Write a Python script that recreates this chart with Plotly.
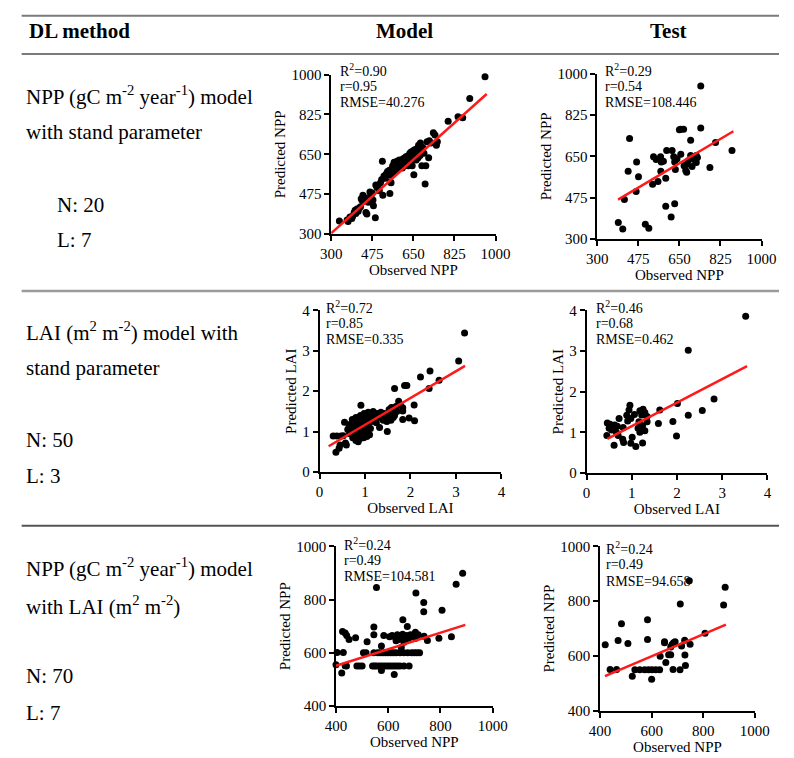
import plotly.graph_objects as go

W, H = 794, 758
FONT = "Liberation Serif, Times New Roman, serif"

# ---------------- data ----------------
header_labels = ["DL method", "Model", "Test"]
row_titles = [
    ["NPP (gC m<sup>-2</sup> year<sup>-1</sup>) model", "with stand parameter"],
    ["LAI (m<sup>2</sup> m<sup>-2</sup>) model with", "stand parameter"],
    ["NPP (gC m<sup>-2</sup> year<sup>-1</sup>) model", "with LAI (m<sup>2</sup> m<sup>-2</sup>)"],
]
row_N = ["N: 20", "N: 50", "N: 70"]
row_L = ["L: 7", "L: 3", "L: 7"]

npp_ticks_a = [300, 475, 650, 825, 1000]
lai_ticks = [0, 1, 2, 3, 4]
npp_ticks_b = [400, 600, 800, 1000]

# Panel 1: NPP model with stand parameter (Model)
p1_obs = [335, 368, 372, 380, 388, 392, 398, 402, 405, 410, 415, 420, 425, 428, 432, 435, 440, 445, 448, 452,
          458, 465, 470, 475, 478, 480, 488, 490, 495, 500, 505, 510, 515, 518, 520, 525, 530, 535, 540, 545,
          548, 550, 552, 555, 558, 560, 562, 565, 568, 570, 575, 578, 580, 585, 588, 590, 595, 598, 600, 603,
          605, 608, 610, 613, 615, 618, 620, 622, 625, 628, 630, 632, 635, 638, 640, 642, 645, 648, 650, 652,
          655, 658, 660, 662, 665, 668, 670, 672, 675, 678, 680, 683, 686, 690, 695, 700, 703, 708, 715, 718,
          725, 735, 742, 748, 752, 798, 840, 860, 890, 955]
p1_pred = [358, 362, 355, 375, 368, 380, 395, 405, 390, 410, 400, 415, 420, 455, 448, 470, 445, 460, 395, 388,
           440, 485, 470, 480, 450, 425, 372, 515, 505, 512, 490, 525, 540, 620, 470, 555, 545, 565, 575, 560,
           580, 478, 530, 525, 560, 590, 600, 570, 615, 595, 580, 600, 620, 610, 590, 625, 605, 615, 600, 590,
           630, 620, 600, 635, 615, 605, 640, 625, 610, 600, 645, 630, 655, 620, 660, 640, 600, 665, 650, 560,
           670, 640, 655, 625, 675, 650, 635, 690, 660, 645, 700, 665, 600, 680, 655, 520, 600, 705, 635, 710,
           700, 745, 735, 690, 705, 795, 815, 810, 895, 990]
p1_stats = ["0.90", "0.95", "40.276"]
p1_fit = dict(slope=0.923, intercept=27.0, x0=300, x1=962)

# Panel 2: NPP model with stand parameter (Test)
p2_obs = [741, 741, 655, 650, 668, 698, 438, 804, 874, 596, 619, 656, 540, 551, 570, 582, 573, 468, 698, 711,
          722, 727, 626, 640, 630, 688, 680, 670, 677, 681, 704, 722, 715, 633, 571, 592, 559, 536, 432, 476,
          466, 416, 592, 630, 615, 505, 520, 390, 409, 780]
p2_pred = [948, 770, 765, 762, 765, 718, 725, 708, 675, 675, 675, 659, 648, 637, 648, 629, 626, 626, 653, 640,
           653, 645, 648, 640, 626, 631, 615, 610, 590, 583, 607, 624, 635, 594, 587, 557, 543, 532, 587, 564,
           501, 467, 439, 449, 393, 363, 346, 370, 342, 603]
p2_stats = ["0.29", "0.54", "108.446"]
p2_fit = dict(slope=0.5886, intercept=238.0, x0=389, x1=880)

# Panel 3: LAI model with stand parameter (Model)
p3_obs = [0.30, 0.38, 0.47, 0.45, 0.36, 0.43, 0.55, 0.59, 0.52, 0.57, 0.62, 0.65, 0.66, 0.68, 0.70, 0.72, 0.73, 0.75,
          0.76, 0.78, 0.80, 0.80, 0.82, 0.83, 0.85, 0.85, 0.87, 0.88, 0.90, 0.90, 0.91, 0.92, 0.93, 0.95, 0.95, 0.97,
          0.98, 0.98, 1.00, 1.00, 1.02, 1.03, 1.04, 1.05, 1.06, 1.07, 1.08, 1.10, 1.10, 1.12, 1.13, 1.15, 1.18, 1.20,
          1.22, 1.25, 1.28, 1.30, 1.32, 1.35, 1.38, 1.40, 1.42, 1.45, 1.48, 1.49, 1.50, 1.52, 1.53, 1.55, 1.57, 1.58,
          1.60, 1.62, 1.63, 1.65, 1.65, 1.68, 1.70, 1.74, 1.78, 1.83, 1.83, 1.83, 1.87, 1.92, 1.97, 2.08, 2.09, 2.22,
          2.41, 2.43, 2.63, 3.06, 3.19]
p3_pred = [0.89, 0.89, 0.89, 0.67, 0.49, 0.59, 1.23, 0.67, 0.90, 0.72, 1.05, 1.12, 0.95, 1.18, 1.02, 1.30, 0.85, 1.10,
           0.98, 1.25, 0.78, 1.35, 1.05, 0.92, 1.15, 0.75, 1.28, 0.82, 1.00, 1.40, 1.65, 1.20, 0.90, 1.10, 1.32, 0.85,
           1.05, 1.45, 1.25, 0.95, 1.38, 1.12, 0.88, 1.30, 1.02, 1.48, 1.20, 0.92, 1.35, 1.08, 1.42, 1.25, 1.50, 1.30,
           1.40, 1.22, 1.45, 1.35, 1.10, 1.48, 1.40, 1.28, 1.45, 1.35, 1.25, 1.00, 1.42, 1.32, 1.55, 1.38, 1.28, 1.60,
           1.45, 1.35, 1.55, 1.40, 2.07, 1.62, 1.50, 1.75, 1.65, 1.59, 1.51, 1.30, 2.14, 2.14, 1.34, 1.66, 1.27, 2.35,
           2.07, 2.50, 2.27, 2.75, 3.44]
p3_stats = ["0.72", "0.85", "0.335"]
p3_fit = dict(slope=0.664, intercept=0.504, x0=0.2, x1=3.2)

# Panel 4: LAI model with stand parameter (Test)
p4_obs = [3.52, 2.25, 2.82, 2.56, 2.25, 2.01, 1.91, 1.99, 1.59, 1.62, 1.34, 1.34, 1.29, 1.25, 1.18, 1.22, 1.16, 1.24,
          1.18, 1.14, 1.29, 1.24, 1.09, 0.98, 1.01, 1.06, 0.96, 0.94, 0.89, 0.91, 0.98, 0.81, 0.80, 0.82, 0.72, 0.68,
          0.70, 0.61, 0.66, 0.56, 0.54, 0.59, 0.62, 0.52, 0.46, 0.45, 0.50]
p4_pred = [3.86, 3.02, 1.82, 1.54, 1.42, 1.71, 1.27, 0.91, 1.22, 1.55, 1.26, 1.39, 1.49, 1.57, 1.53, 1.43, 1.26, 1.16,
           1.00, 1.10, 1.04, 0.74, 0.65, 0.73, 0.88, 1.44, 1.67, 1.55, 1.42, 1.28, 1.34, 1.12, 0.83, 0.75, 1.34, 1.15,
           0.92, 0.68, 1.00, 1.06, 1.15, 1.10, 1.18, 1.20, 1.23, 0.92, 1.10]
p4_stats = ["0.46", "0.68", "0.462"]
p4_fit = dict(slope=0.58, intercept=0.573, x0=0.46, x1=3.55)

# Panel 5: NPP model with LAI (Model)
p5_obs = [885, 860, 555, 706, 736, 736, 806, 842, 794, 750, 737, 704, 715, 673, 656, 545, 545, 583, 519, 475,
          450, 441, 435, 425, 428, 404, 400, 435, 422, 574, 574, 623,
          440, 480, 490, 500, 540, 548, 555, 565, 575, 585, 595, 605, 615, 625, 635, 645, 660, 680,
          505, 515, 545, 560, 570, 580, 590, 600, 610, 620, 630, 645, 660, 675, 690, 700, 710, 720,
          605, 615, 625, 635, 645, 650, 655, 660, 665, 670, 678, 685, 692, 700, 705, 640, 630, 660, 650]
p5_pred = [899, 858, 845, 825, 789, 754, 760, 660, 655, 646, 662, 677, 668, 699, 724, 697, 668, 665, 641, 656,
           650, 665, 674, 680, 601, 601, 555, 551, 524, 625, 533, 518,
           550, 550, 550, 550, 550, 550, 550, 550, 550, 550, 550, 550, 550, 550, 550, 550, 550, 550,
           600, 600, 600, 600, 600, 600, 600, 600, 600, 600, 600, 600, 600, 600, 600, 600, 600, 600,
           660, 665, 660, 668, 662, 655, 670, 660, 648, 665, 655, 668, 660, 670, 655, 650, 645, 640, 620]
p5_stats = ["0.24", "0.49", "104.581"]
p5_fit = dict(slope=0.311, intercept=426.6, x0=400, x1=895)

# Panel 6: NPP model with LAI (Test)
p6_obs = [746, 885, 879, 711, 807, 749, 728, 729, 716, 731, 710, 683, 685, 691, 679, 674, 650, 650, 666, 674,
          655, 633, 584, 584, 483, 470, 508, 420, 439, 464, 525, 600, 535, 554, 573, 588, 601, 616, 631]
p6_pred = [875, 851, 786, 790, 683, 643, 658, 604, 637, 565, 550, 551, 648, 652, 642, 633, 652, 648, 605, 605,
           576, 599, 660, 732, 718, 657, 646, 641, 551, 551, 526, 515, 550, 550, 550, 550, 550, 550, 550]
p6_stats = ["0.24", "0.49", "94.658"]
p6_fit = dict(slope=0.40, intercept=359.4, x0=419, x1=888)

# ---------------- layout helpers ----------------
def px(x):
    return x / W

def py(y):
    return 1 - y / H

panels = [
    dict(obs=p1_obs, pred=p1_pred, fit=p1_fit, stats=p1_stats, box=(331, 501, 68, 231),
         rng=[300, 1000], ticks=npp_ticks_a, name="NPP", tx=338, ty=(63, 80, 97)),
    dict(obs=p2_obs, pred=p2_pred, fit=p2_fit, stats=p2_stats, box=(606, 776, 67, 236),
         rng=[300, 1000], ticks=npp_ticks_a, name="NPP", tx=612, ty=(63, 80, 97)),
    dict(obs=p3_obs, pred=p3_pred, fit=p3_fit, stats=p3_stats, box=(319, 507, 309, 474),
         rng=[0, 4], ticks=lai_ticks, name="LAI", tx=324, ty=(305, 322, 339)),
    dict(obs=p4_obs, pred=p4_pred, fit=p4_fit, stats=p4_stats, box=(595, 782, 309, 475),
         rng=[0, 4], ticks=lai_ticks, name="LAI", tx=603, ty=(305, 322, 339)),
    dict(obs=p5_obs, pred=p5_pred, fit=p5_fit, stats=p5_stats, box=(336, 498, 550, 713),
         rng=[400, 1000], ticks=npp_ticks_b, name="NPP", tx=342, ty=(548, 564, 581)),
    dict(obs=p6_obs, pred=p6_pred, fit=p6_fit, stats=p6_stats, box=(609, 769, 550, 718),
         rng=[400, 1000], ticks=npp_ticks_b, name="NPP", tx=613, ty=(552, 569, 586)),
]

fig = go.Figure()
annotations = []
layout_axes = {}

axis_common = dict(showgrid=False, zeroline=False, showline=True, linecolor="black", linewidth=1.5,
                   ticks="outside", ticklen=5, tickwidth=1.5, tickcolor="black",
                   tickfont=dict(family=FONT, size=15, color="black"), mirror=False)

for i, p in enumerate(panels, start=1):
    xa = "x" if i == 1 else f"x{i}"
    ya = "y" if i == 1 else f"y{i}"
    x0, x1, y0, y1 = p["box"]
    fig.add_trace(go.Scatter(x=p["obs"], y=p["pred"], mode="markers",
                             marker=dict(color="black", size=7), xaxis=xa, yaxis=ya,
                             showlegend=False, cliponaxis=False))
    f = p["fit"]
    fx = [f["x0"], f["x1"]]
    fy = [f["slope"] * v + f["intercept"] for v in fx]
    fig.add_trace(go.Scatter(x=fx, y=fy, mode="lines", line=dict(color="#ff1a1a", width=2.5),
                             xaxis=xa, yaxis=ya, showlegend=False))
    kx = "xaxis" if i == 1 else f"xaxis{i}"
    ky = "yaxis" if i == 1 else f"yaxis{i}"
    layout_axes[kx] = dict(axis_common, domain=[px(x0), px(x1)], range=p["rng"], tickvals=p["ticks"],
                           anchor=ya,
                           title=dict(text="Observed " + p["name"], font=dict(family=FONT, size=15, color="black"),
                                      standoff=2))
    layout_axes[ky] = dict(axis_common, domain=[py(y1), py(y0)], range=p["rng"], tickvals=p["ticks"],
                           anchor=xa,
                           title=dict(text="Predicted " + p["name"], font=dict(family=FONT, size=15, color="black"),
                                      standoff=2))
    labels = ["R<sup>2</sup>=" + p["stats"][0], "r=" + p["stats"][1], "RMSE=" + p["stats"][2]]
    for t, yy in zip(labels, p["ty"]):
        annotations.append(dict(text=t, x=px(p["tx"]), y=py(yy), xref="paper", yref="paper",
                                xanchor="left", yanchor="middle", align="left", showarrow=False,
                                font=dict(family=FONT, size=14, color="black")))

# header
hdr_font = dict(family=FONT, size=21, color="black")
annotations.append(dict(text="<b>" + header_labels[0] + "</b>", x=px(17), y=py(23), xref="paper", yref="paper",
                        xanchor="left", yanchor="middle", align="left", showarrow=False, font=hdr_font))
annotations.append(dict(text="<b>" + header_labels[1] + "</b>", x=px(407), y=py(23), xref="paper", yref="paper",
                        xanchor="center", yanchor="middle", showarrow=False, font=hdr_font))
annotations.append(dict(text="<b>" + header_labels[2] + "</b>", x=px(680), y=py(23), xref="paper", yref="paper",
                        xanchor="center", yanchor="middle", showarrow=False, font=hdr_font))

# row description cells
row_text_y = [(89, 127, 201, 237), (330, 368, 441, 478), (572, 610, 682, 720)]
row_nl_x = [45, 13, 13]
cell_font = dict(family=FONT, size=21, color="black")
for r in range(3):
    ys = row_text_y[r]
    for k, line in enumerate(row_titles[r]):
        annotations.append(dict(text=line, x=px(13), y=py(ys[k]), xref="paper", yref="paper",
                                xanchor="left", yanchor="middle", align="left", showarrow=False, font=cell_font))
    annotations.append(dict(text=row_N[r], x=px(row_nl_x[r]), y=py(ys[2]), xref="paper", yref="paper",
                            xanchor="left", yanchor="middle", align="left", showarrow=False, font=cell_font))
    annotations.append(dict(text=row_L[r], x=px(row_nl_x[r]), y=py(ys[3]), xref="paper", yref="paper",
                            xanchor="left", yanchor="middle", align="left", showarrow=False, font=cell_font))

# table rules
shapes = []
for yy, col, wd in [(8, "#7a7a7a", 2), (47, "#7a7a7a", 2), (289, "#9a9a9a", 2.5), (529, "#555555", 2)]:
    shapes.append(dict(type="line", xref="paper", yref="paper", x0=px(11), x1=1, y0=py(yy), y1=py(yy),
                       line=dict(color=col, width=wd)))

fig.update_layout(width=W, height=H, margin=dict(l=0, r=0, t=0, b=0),
                  paper_bgcolor="white", plot_bgcolor="white",
                  annotations=annotations, shapes=shapes, **layout_axes)

fig.write_html("out.html")
